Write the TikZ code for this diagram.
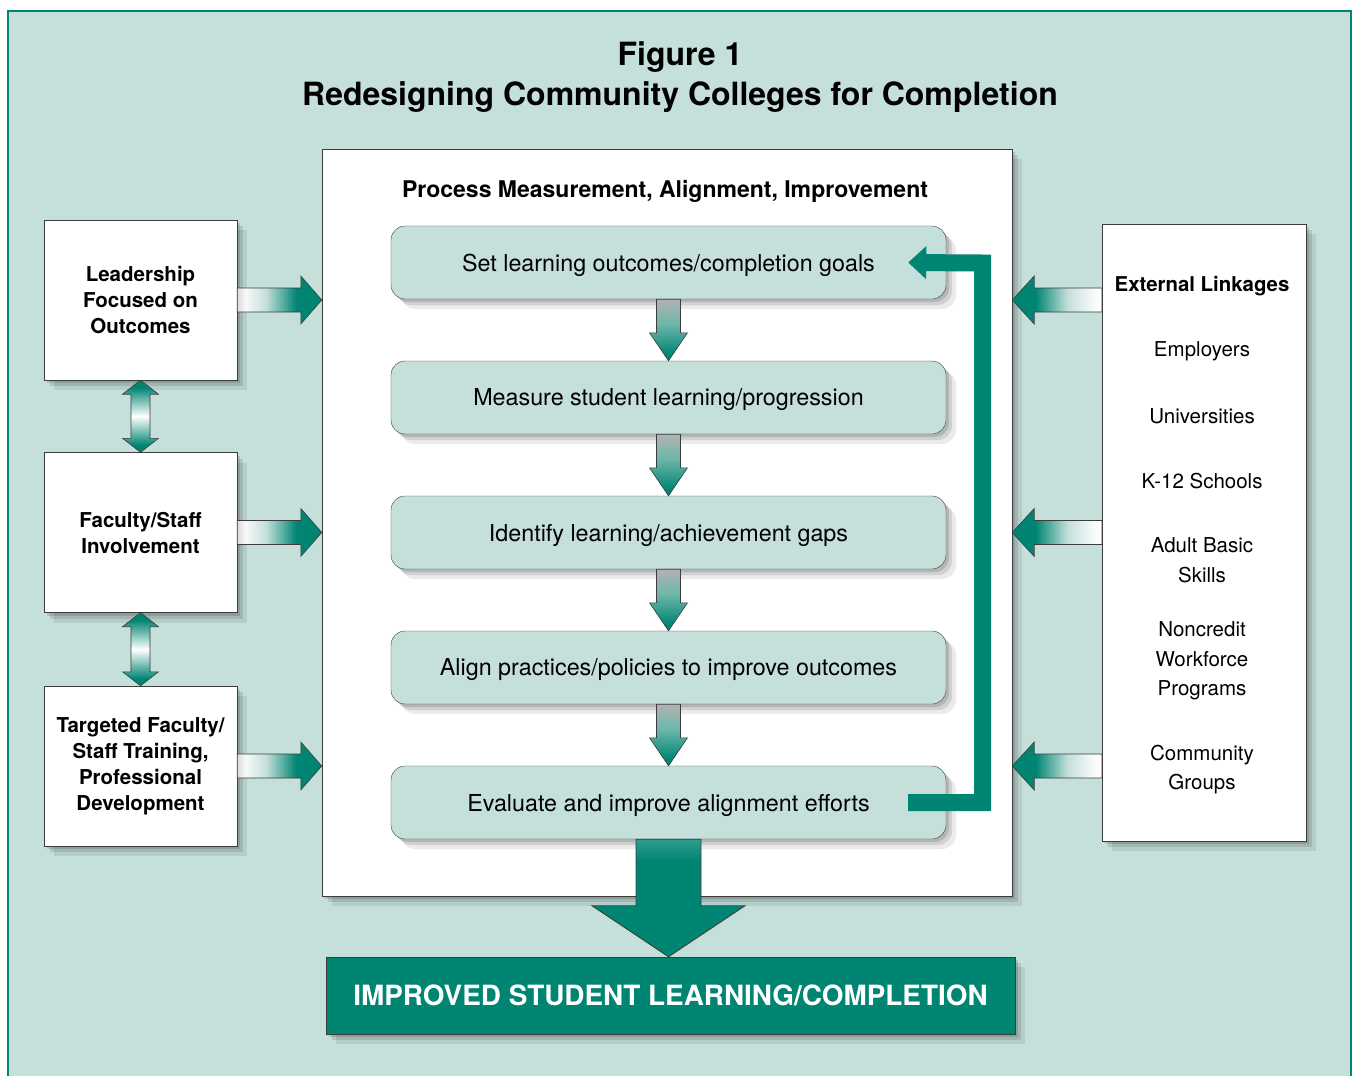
\documentclass[tikz,border=0pt]{standalone}
\usepackage{fontspec}
\setmainfont{TeX Gyre Heros}
\usetikzlibrary{calc,shadows,arrows.meta}

\definecolor{sea}{RGB}{197,223,218}
\definecolor{deepteal}{RGB}{0,133,115}
\definecolor{edge}{RGB}{60,60,60}

\pgfdeclarehorizontalshading{faderight}{100bp}{color(0bp)=(black!15); color(25bp)=(black!15); color(30bp)=(white!85!sea); color(42bp)=(sea); color(60bp)=(deepteal); color(100bp)=(deepteal)}
\pgfdeclarehorizontalshading{fadeleft}{100bp}{color(0bp)=(deepteal); color(38bp)=(deepteal); color(56bp)=(sea); color(70bp)=(white!85!sea); color(75bp)=(white); color(100bp)=(white)}
\pgfdeclareverticalshading{fadedown}{100bp}{color(0bp)=(deepteal); color(30bp)=(deepteal); color(55bp)=(deepteal!45!sea); color(75bp)=(black!30); color(100bp)=(black!30)}
\pgfdeclareverticalshading{fadeboth}{100bp}{color(0bp)=(deepteal); color(30bp)=(deepteal); color(50bp)=(white); color(70bp)=(deepteal); color(100bp)=(deepteal)}
\pgfdeclareverticalshading{bigfade}{100bp}{color(0bp)=(deepteal); color(66bp)=(deepteal); color(75bp)=(deepteal!75!sea); color(100bp)=(deepteal!75!sea)}

\newcommand\ftitle{\fontsize{32}{40}\selectfont\bfseries}
\newcommand\fhead{\fontsize{23}{27}\selectfont\bfseries}
\newcommand\flinkhead{\fontsize{20.4}{25}\selectfont\bfseries}
\newcommand\fstep{\fontsize{23.3}{27}\selectfont}
\newcommand\fside{\fontsize{20.5}{26}\selectfont\bfseries}
\newcommand\flist{\fontsize{20.5}{29.5}\selectfont}
\newcommand\fresult{\fontsize{27.9}{32}\selectfont\bfseries}

% fat arrows between two anchors: tail, tip
\newcommand\rarrow[2]{%
  \shadedraw[toright] let \p1=(#1), \p2=(#2) in
    (\x1,\y2+12pt) -- (\x2-21pt,\y2+12pt) -- (\x2-21pt,\y2+24pt) -- (\x2,\y2)
    -- (\x2-21pt,\y2-24pt) -- (\x2-21pt,\y2-12pt) -- (\x1,\y2-12pt) -- cycle;}
\newcommand\larrow[2]{%
  \shadedraw[toleft] let \p1=(#1), \p2=(#2) in
    (\x1,\y2+12pt) -- (\x2+22pt,\y2+12pt) -- (\x2+22pt,\y2+24pt) -- (\x2,\y2)
    -- (\x2+22pt,\y2-24pt) -- (\x2+22pt,\y2-12pt) -- (\x1,\y2-12pt) -- cycle;}
\newcommand\darrow[6]{%
  \shadedraw[#6] let \p1=(#1), \p2=(#2) in
    (\x2-#3,\y1) -- (\x2+#3,\y1) -- (\x2+#3,\y2+#5) -- (\x2+#4,\y2+#5) -- (\x2,\y2)
    -- (\x2-#4,\y2+#5) -- (\x2-#3,\y2+#5) -- cycle;}
\newcommand\udarrow[2]{%
  \shadedraw[tobothends] let \p1=(#1), \p2=(#2) in
    (\x1,\y1) -- (\x1+18pt,\y1-14pt) -- (\x1+9.5pt,\y1-14pt) -- (\x1+9.5pt,\y2+14pt)
    -- (\x1+18pt,\y2+14pt) -- (\x1,\y2) -- (\x1-18pt,\y2+14pt) -- (\x1-9.5pt,\y2+14pt)
    -- (\x1-9.5pt,\y1-14pt) -- (\x1-18pt,\y1-14pt) -- cycle;}

\begin{document}
\begin{tikzpicture}[x=1pt, y=-1pt,
  softshadow/.style={general shadow={shadow xshift=3pt,shadow yshift=-3pt,fill=black,opacity=.13},
                     general shadow={shadow xshift=6pt,shadow yshift=-6pt,fill=black,opacity=.11},
                     general shadow={shadow xshift=10pt,shadow yshift=-10pt,fill=black,opacity=.08}},
  mainbox/.style={draw=edge, fill=white, softshadow, minimum width=690pt, minimum height=747pt},
  stepbox/.style={draw=edge, fill=sea, rounded corners=14pt, minimum width=555pt, minimum height=73pt, text depth=0pt, font=\fstep, softshadow},
  sidebox/.style={draw=edge, fill=white, minimum width=193pt, minimum height=160pt, align=center, font=\fside, softshadow},
  linkbox/.style={draw=edge, fill=white, minimum width=204pt, minimum height=617pt, softshadow},
  linktext/.style={font=\flist, align=center},
  resultbox/.style={draw=edge, fill=deepteal, text=white, font=\fresult, minimum width=689pt, minimum height=77pt, softshadow},
  toright/.style={shading=faderight, draw=edge, line width=.6pt},
  toleft/.style={shading=fadeleft, draw=edge, line width=.6pt},
  tosouth/.style={shading=fadedown, draw=edge, line width=.6pt},
  tobothends/.style={shading=fadeboth, draw=edge, line width=.6pt},
  bigdown/.style={shading=bigfade, draw=edge, line width=.8pt}]

\useasboundingbox (0,0) rectangle (1353,1076);
\fill[white] (0,0) rectangle (1353,1076);
\clip (0,0) rectangle (1353,1076);
\fill[sea] (8,11) rectangle (1351,1090);
\draw[deepteal, line width=1.2pt] (8,1090) -- (8,11) -- (1351,11) -- (1351,1090);

% title
\node[font=\ftitle] (fig) at (680,57.5) {Figure 1};
\node[font=\ftitle] (ttl) at (680,97) {Redesigning Community Colleges for Completion};

% process box
\node[mainbox] (main) at (667,522.5) {};
\node[font=\fhead] (ptitle) at (665,191) {Process Measurement, Alignment, Improvement};

\node[stepbox] (s1) at (668.5,262.5) {Set learning outcomes/completion goals};
\node[stepbox] (s2) at (668.5,397.5) {Measure student learning/progression};
\node[stepbox] (s3) at (668.5,532.5) {Identify learning/achievement gaps};
\node[stepbox] (s4) at (668.5,667.5) {Align practices/policies to improve outcomes};
\node[stepbox] (s5) at (668.5,802.5) {Evaluate and improve alignment efforts};

\darrow{s1.south}{s2.north}{12pt}{19pt}{28pt}{tosouth}
\darrow{s2.south}{s3.north}{12pt}{19pt}{28pt}{tosouth}
\darrow{s3.south}{s4.north}{12pt}{19pt}{28pt}{tosouth}
\darrow{s4.south}{s5.north}{12pt}{19pt}{28pt}{tosouth}

% feedback loop
\coordinate (fbtop) at (982.5,263);
\draw[deepteal, line width=17pt, -{Triangle[length=18pt,width=32pt]}] ([xshift=-38pt]s5.east) -| (fbtop) -- ([xshift=-38pt]s1.east);

% left column
\node[sidebox] (lead) at (140.5,300) {Leadership\\Focused on\\Outcomes};
\node[sidebox] (staff) at (140.5,532.5) {Faculty/Staff\\Involvement};
\node[sidebox] (train) at (140.5,766) {Targeted Faculty/\\Staff Training,\\Professional\\Development};

\udarrow{lead.south}{staff.north}
\udarrow{staff.south}{train.north}

\rarrow{lead.east}{main.west |- lead.east}
\rarrow{staff.east}{main.west |- staff.east}
\rarrow{train.east}{main.west |- train.east}

% right column
\node[linkbox] (ext) at (1204,532.5) {};
\node[font=\flinkhead] (extt) at (1202,286) {External Linkages};
\node[linktext] (emp) at (1202,351) {Employers};
\node[linktext] (uni) at (1202,416) {Universities};
\node[linktext] (k12) at (1202,481) {K-12 Schools};
\node[linktext] (abs) at (1202,560) {Adult Basic\\Skills};
\node[linktext] (ncw) at (1202,661) {Noncredit\\Workforce\\Programs};
\node[linktext] (cgr) at (1202,769.5) {Community\\Groups};

\larrow{ext.west |- lead.east}{main.east |- lead.east}
\larrow{ext.west |- staff.east}{main.east |- staff.east}
\larrow{ext.west |- train.east}{main.east |- train.east}

% outcome
\node[resultbox] (result) at (670.5,995.5) {IMPROVED STUDENT LEARNING/COMPLETION};
\darrow{s5.south}{result.north -| s5.south}{32.5pt}{76.5pt}{51pt}{bigdown}
\end{tikzpicture}
\end{document}
